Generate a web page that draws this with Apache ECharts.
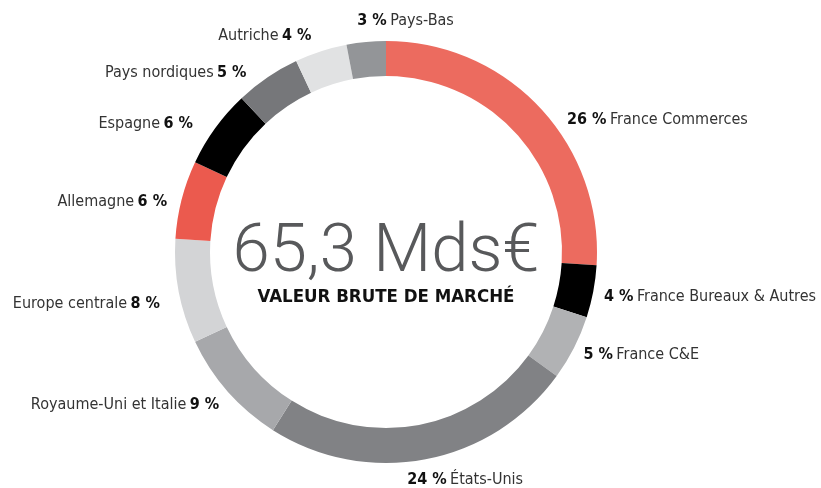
<!DOCTYPE html>
<html>
<head>
<meta charset="utf-8">
<script src="https://cdn.jsdelivr.net/npm/echarts@6/dist/echarts.min.js"></script>
<style>
  html, body { margin: 0; padding: 0; background: #fff; }
  #chart { width: 821px; height: 488px; }
</style>
</head>
<body>
<div id="chart"></div>
<script>
// parts of the portfolio, clockwise from 12 o'clock
var regions = ['France Commerces', 'France Bureaux & Autres', 'France C&E', 'États-Unis',
  'Royaume-Uni et Italie', 'Europe centrale', 'Allemagne', 'Espagne', 'Pays nordiques',
  'Autriche', 'Pays-Bas'];
var shares = [26, 4, 5, 24, 9, 8, 6, 6, 5, 4, 3];
var colors = ['#ec6b5f', '#000000', '#b1b2b4', '#818285', '#a7a8ab', '#d3d4d6',
  '#eb5a4e', '#000000', '#76777a', '#e1e2e3', '#939598'];
// percent written before the name?
var pctFirst = [true, true, true, true, false, false, false, false, false, false, true];
// small label shifts so they sit like the original layout
var nudgeX = [12, -8, -8, -26, 7, 0, 4, -6, -8, 0, 94];
var nudgeY = [22, 3, 1, 7, 4, 10, 6, 4, 7, -2, -7];

var total = '65,3 Mds€';
var subtitle = 'VALEUR BRUTE DE MARCHÉ';

var FONT = '"Liberation Sans Narrow", "DejaVu Sans Condensed", Roboto, sans-serif';

var chart = echarts.init(document.getElementById('chart'));

var data = regions.map(function (r, i) {
  return {
    name: r,
    value: shares[i],
    itemStyle: { color: colors[i] }
  };
});

chart.setOption({
  animation: false,
  series: [{
    type: 'pie',
    center: [386, 252],
    radius: [176, 211],
    startAngle: 90,
    clockwise: true,
    avoidLabelOverlap: false,
    silent: true,
    data: data,
    label: {
      show: true,
      position: 'outside',
      fontFamily: FONT,
      formatter: function (p) {
        var pct = '{b|' + p.value + ' %}';
        var nm = '{n|' + p.name + '}';
        return pctFirst[p.dataIndex] ? pct + ' ' + nm : nm + ' ' + pct;
      },
      rich: {
        b: { fontFamily: FONT, fontSize: 16, fontWeight: 'bold', color: '#111' },
        n: { fontFamily: FONT, fontSize: 16, color: '#333' }
      }
    },
    labelLine: { show: false, length: 14, length2: 0 },
    labelLayout: function (p) {
      var i = p.dataIndex;
      return { dx: nudgeX[i], dy: nudgeY[i] };
    }
  }],
  graphic: [
    {
      type: 'text',
      x: 386, y: 254,
      style: {
        text: total,
        font: '300 67px Roboto, sans-serif',
        fill: '#58595b',
        textAlign: 'center',
        textVerticalAlign: 'middle'
      }
    },
    {
      type: 'text',
      x: 386, y: 297,
      style: {
        text: subtitle,
        font: 'bold 18.5px ' + FONT,
        fill: '#111',
        textAlign: 'center',
        textVerticalAlign: 'middle'
      }
    }
  ]
});
</script>
</body>
</html>
